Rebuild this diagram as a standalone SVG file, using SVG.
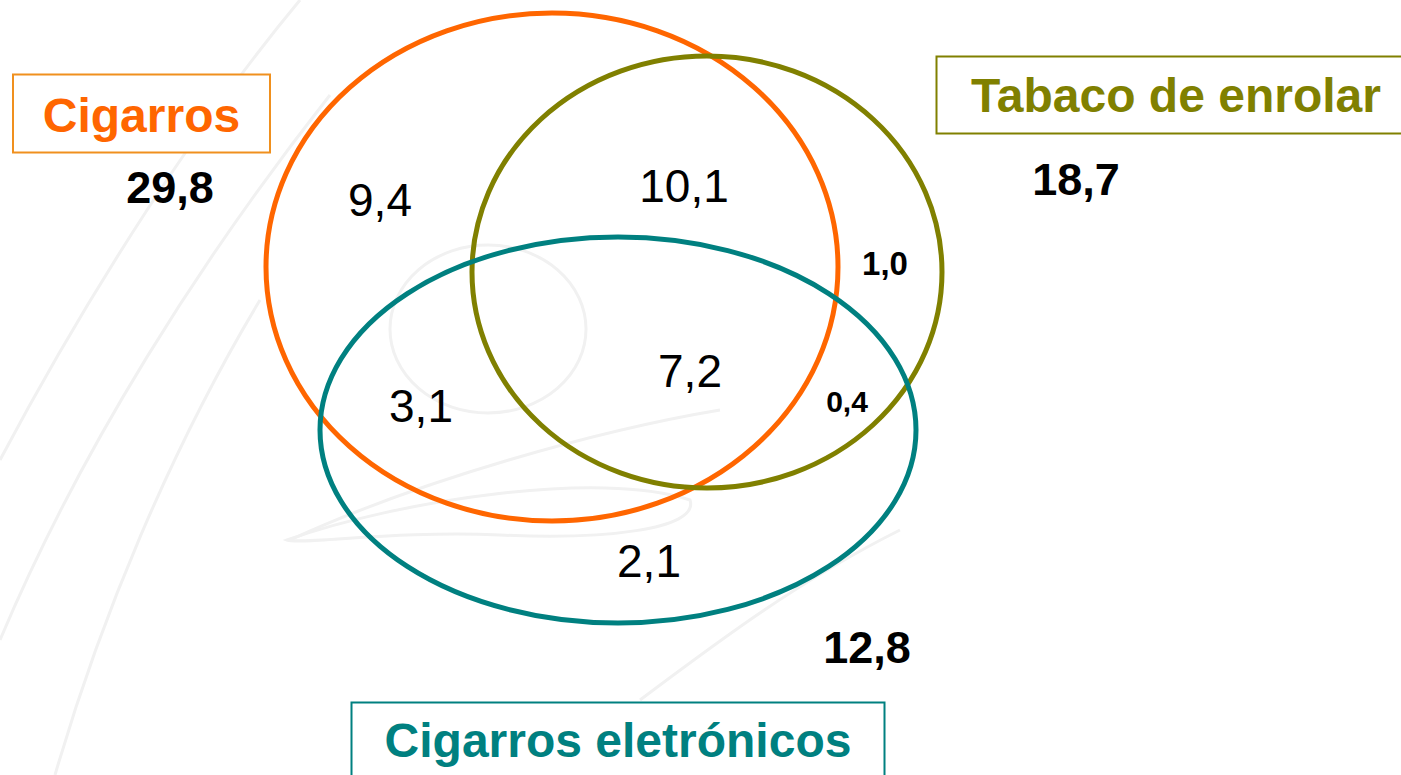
<svg xmlns="http://www.w3.org/2000/svg" width="1401" height="775" viewBox="0 0 1401 775">
<style>
.bg{fill:none;stroke:#f1f1f1;stroke-width:3}
.set{fill:none;stroke-width:5}
.lab{font-family:"Liberation Sans",Arial,sans-serif;font-weight:bold;font-size:48px;text-anchor:middle}
.tot{font-family:"Liberation Sans",Arial,sans-serif;font-weight:bold;font-size:45px;text-anchor:middle;fill:#000}
.num{font-family:"Liberation Sans",Arial,sans-serif;font-size:46px;text-anchor:middle;fill:#000}
.sm{font-family:"Liberation Sans",Arial,sans-serif;font-weight:bold;text-anchor:middle;fill:#000}
</style>
<rect width="1401" height="775" fill="#fff"/>
<g id="background">
<path class="bg" d="M300 0 C200 120 90 290 0 460"/>
<path class="bg" d="M330 95 C200 260 80 450 0 640"/>
<path class="bg" d="M260 300 C170 450 100 620 55 775"/>
<ellipse class="bg" cx="488" cy="329" rx="98" ry="84"/>
<path class="bg" d="M287 540 C400 500 600 470 690 500 C700 530 600 540 500 535 C400 530 300 545 287 540 Z"/>
<path class="bg" d="M290 540 C420 480 600 430 720 410"/>
<path class="bg" d="M640 700 C720 640 800 580 900 530"/>
</g>
<g id="sets">
<ellipse id="set-cigarros" class="set" stroke="#FF6600" cx="552" cy="267" rx="286" ry="254"/>
<ellipse id="set-tabaco" class="set" stroke="#808000" cx="707" cy="272" rx="235" ry="216"/>
<ellipse id="set-eletronicos" class="set" stroke="#008080" cx="618" cy="430" rx="298" ry="193"/>
</g>
<g id="label-cigarros">
<rect x="13" y="74.5" width="257" height="78" fill="#fff" stroke="#F0901E" stroke-width="2"/>
<text class="lab" x="141.5" y="132" fill="#FF6600">Cigarros</text>
<text class="tot" x="170" y="203">29,8</text>
</g>
<g id="label-tabaco">
<rect x="936.5" y="56.5" width="470" height="77" fill="#fff" stroke="#808000" stroke-width="2"/>
<text class="lab" x="1176" y="112" fill="#808000">Tabaco de enrolar</text>
<text class="tot" x="1076" y="195">18,7</text>
</g>
<g id="label-eletronicos">
<rect x="351.5" y="702.5" width="533" height="80" fill="#fff" stroke="#008080" stroke-width="2"/>
<text class="lab" x="618" y="757" fill="#008080">Cigarros eletrónicos</text>
<text class="tot" x="867" y="663">12,8</text>
</g>
<g id="regions">
<text class="num" x="380" y="216">9,4</text>
<text class="num" x="684" y="202">10,1</text>
<text class="num" x="690" y="387">7,2</text>
<text class="num" x="421" y="422">3,1</text>
<text class="num" x="649" y="577">2,1</text>
<text class="sm" x="885" y="275" font-size="33">1,0</text>
<text class="sm" x="847" y="412" font-size="30">0,4</text>
</g>
</svg>
